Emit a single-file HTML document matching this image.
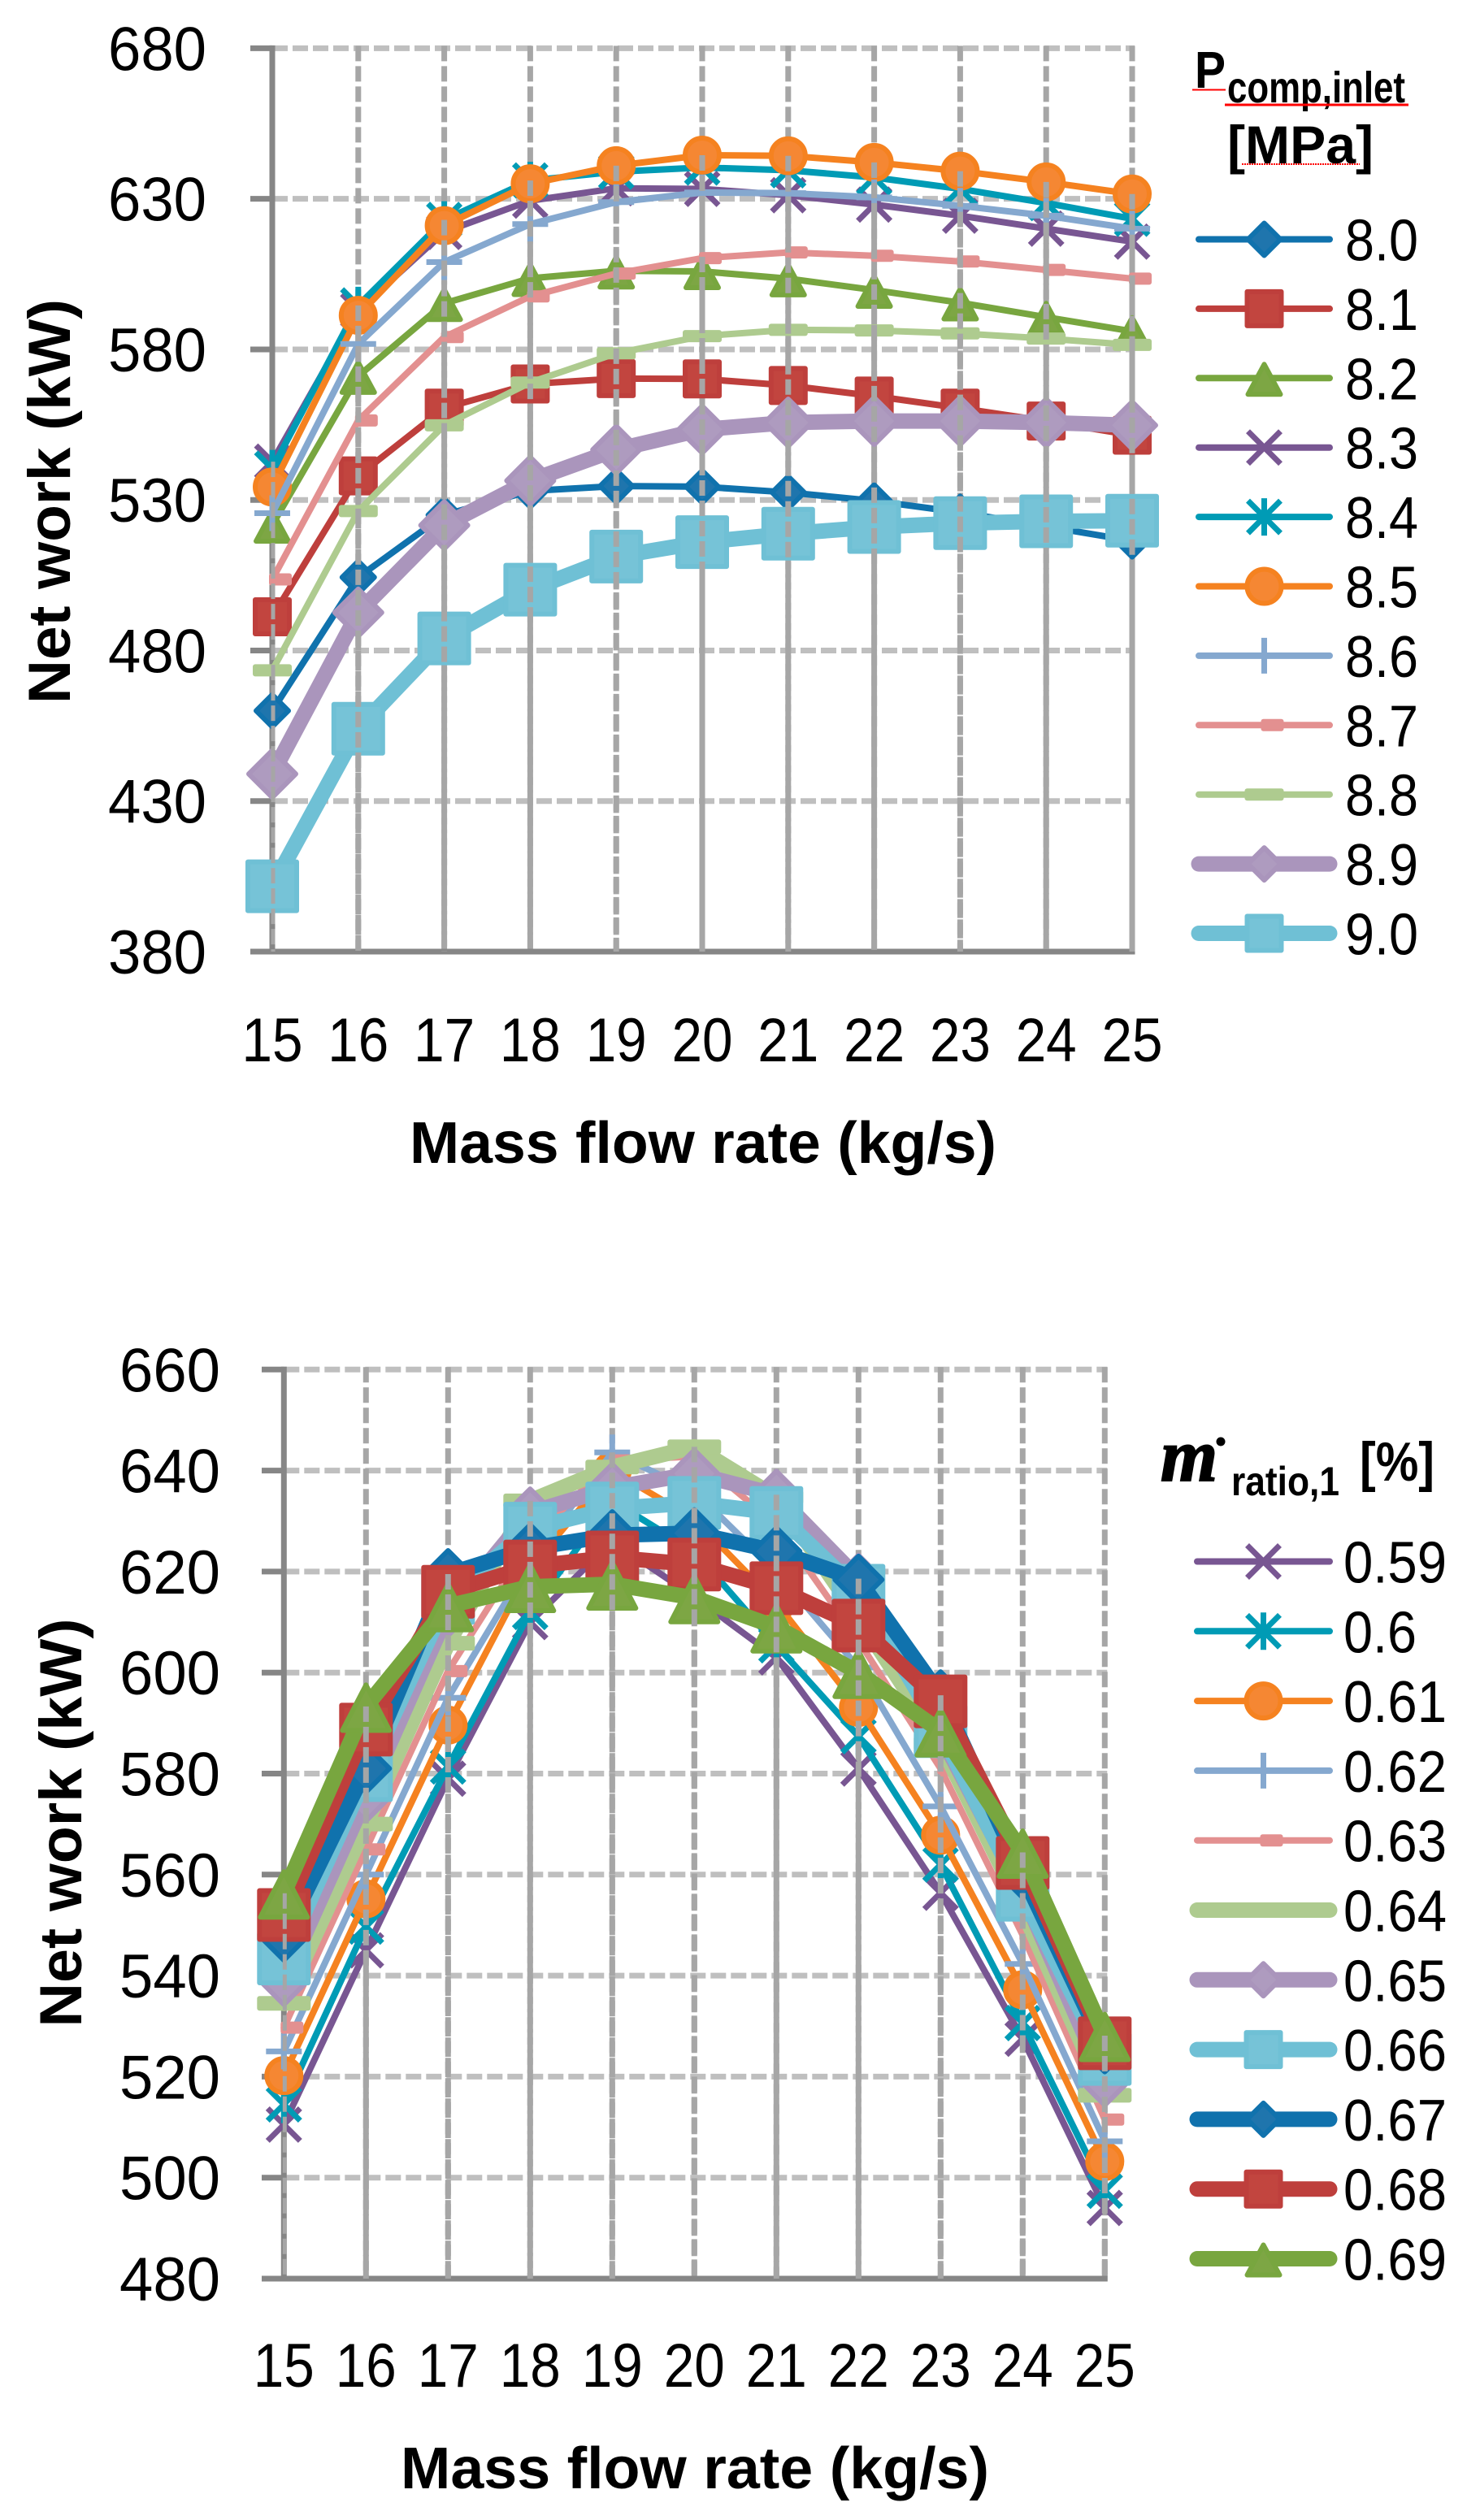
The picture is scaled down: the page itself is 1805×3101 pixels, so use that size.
<!DOCTYPE html>
<html lang="en">
<head>
<meta charset="utf-8">
<title>Net work vs mass flow rate</title>
<style>
html,body{margin:0;padding:0;background:#fff;}
svg{display:block;}
text{font-family:"Liberation Sans",sans-serif;fill:#000;}
.bold{font-weight:bold;}
</style>
</head>
<body>
<svg id="figure" xmlns="http://www.w3.org/2000/svg" width="1805" height="3101" viewBox="0 0 1805 3101">
  <g id="chart-top"></g>
  <g id="chart-bottom"></g>

  <text class="bold" transform="translate(86 617) rotate(-90)" text-anchor="middle" font-size="73" textLength="498" lengthAdjust="spacingAndGlyphs">Net work (kW)</text>
  <text class="bold" x="504" y="1431" font-size="72" textLength="722" lengthAdjust="spacingAndGlyphs">Mass flow rate (kg/s)</text>
  <text class="bold" x="1470" y="108" font-size="64" textLength="38" lengthAdjust="spacingAndGlyphs">P</text>
  <text class="bold" x="1510" y="126" font-size="54" textLength="219" lengthAdjust="spacingAndGlyphs">comp,inlet</text>
  <text class="bold" x="1510" y="201" font-size="66" textLength="180" lengthAdjust="spacingAndGlyphs">[MPa]</text>
  <line x1="1467" y1="110.5" x2="1508" y2="110.5" stroke="#ff0000" stroke-width="2"/>
  <line x1="1507" y1="129" x2="1733" y2="129" stroke="#ff0000" stroke-width="3"/>
  <line x1="1528" y1="202" x2="1673" y2="202" stroke="#ff0000" stroke-width="2" stroke-dasharray="2 1"/>

  <text class="bold" transform="translate(100 2243) rotate(-90)" text-anchor="middle" font-size="73" textLength="503" lengthAdjust="spacingAndGlyphs">Net work (kW)</text>
  <text class="bold" x="493" y="3062" font-size="72" textLength="724" lengthAdjust="spacingAndGlyphs">Mass flow rate (kg/s)</text>
  <text x="1428" y="1822" font-size="92" font-weight="bold" font-style="italic" stroke="#000" stroke-width="2" style="font-family:'Liberation Serif',serif" textLength="70" lengthAdjust="spacingAndGlyphs">m</text>
  <circle cx="1502" cy="1774" r="5.5" fill="#000"/>
  <text class="bold" x="1515" y="1840" font-size="50" textLength="133" lengthAdjust="spacingAndGlyphs">ratio,1</text>
  <text class="bold" x="1673" y="1822" font-size="68" textLength="92" lengthAdjust="spacingAndGlyphs">[%]</text>
</svg>

<script>
// ---------- shared categories ----------
const categories = [15, 16, 17, 18, 19, 20, 21, 22, 23, 24, 25];

// ---------- top chart data ----------
const topTicks = [380, 430, 480, 530, 580, 630, 680];
const topLabels = ['8.0', '8.1', '8.2', '8.3', '8.4', '8.5', '8.6', '8.7', '8.8', '8.9', '9.0'];
const p80 = [460, 504.3, 525, 533, 534.6, 534.4, 532.5, 529.7, 525.9, 521.2, 516.4];
const p81 = [491.2, 538, 560.5, 568.5, 570.3, 570.2, 568, 564.5, 560.5, 556.2, 551.5];
const p82 = [521.7, 571.1, 595.3, 603.6, 606.1, 605.9, 603.5, 599.7, 595.5, 590.7, 586];
const p83 = [542.7, 593, 619, 629.4, 633.5, 633.3, 631.2, 628.1, 624.4, 620.1, 615.8];
const p84 = [540.4, 594.6, 623, 636.1, 639, 640.4, 639.5, 637.1, 633.3, 628.6, 623.4];
const p85 = [534.3, 591.3, 621.1, 635, 641, 644.5, 644.3, 642.1, 639.2, 635.6, 631.6];
const p86 = [525.6, 581.8, 609, 621.6, 628.9, 632.1, 631.9, 630.5, 627.7, 624.4, 620.1];
const p87 = [503.6, 556.4, 584.1, 597.6, 605.2, 610.3, 612.2, 611.1, 609.2, 606.4, 603.5];
const p88 = [473.4, 526.3, 554.8, 569, 578.7, 584.4, 586.5, 586.3, 585.3, 583.6, 581.5];
const p89 = [439, 492.6, 521.6, 536.4, 546.7, 553.4, 555.7, 556.2, 556.2, 555.7, 554.8];
const p90 = [401.7, 454, 484, 500.2, 511.2, 516, 518.8, 521, 522.3, 522.9, 523.1];

// ---------- bottom chart data ----------
const bottomTicks = [480, 500, 520, 540, 560, 580, 600, 620, 640, 660];
const bottomLabels = ['0.59', '0.6', '0.61', '0.62', '0.63', '0.64', '0.65', '0.66', '0.67', '0.68', '0.69'];
const r059 = [510.5, 545, 579, 610, 626, 615, 603, 581, 556.4, 527.5, 494];
const r060 = [514.5, 549.7, 581.4, 612, 634, 624, 605.4, 587.4, 562, 530.6, 497.4];
const r061 = [520.2, 555.2, 589.6, 620.7, 640, 630.4, 613.8, 593.1, 567.8, 537.2, 503.2];
const r062 = [525, 560, 595, 622, 643.6, 635.9, 620, 601, 573.5, 542.3, 507.2];
const r063 = [529.7, 565, 600.3, 626, 642, 642.8, 629.3, 606.3, 581, 548, 511.5];
const r064 = [534.5, 570, 605.8, 634, 640.7, 644.7, 634.7, 611, 586, 553, 516.3];
const r065 = [538.9, 575.3, 612, 631.7, 636.6, 639.4, 635.2, 618.6, 587.6, 556.4, 519];
const r066 = [543.4, 579.7, 614.8, 628.5, 632.5, 633.6, 631.6, 616.2, 588.4, 556, 523.5];
const r067 = [547.7, 581, 619.5, 624.6, 627.2, 627.6, 624, 618.4, 595.5, 560.1, 525.6];
const r068 = [552, 588.7, 616, 621, 622.8, 621.4, 616.7, 609.3, 594.3, 562.3, 526.6];
const r069 = [556.3, 593.3, 613.2, 617, 617.5, 614.8, 609, 600, 588.4, 564.4, 528.1];

// ---------- series appearance ----------
const blueStyle = {line: '#1072ad', fill: '#1f75ad'};
const redStyle = {line: '#be3f3c', fill: '#c2453f'};
const greenStyle = {line: '#78a63f', fill: '#7da644'};
const purpleStyle = {line: '#785692', fill: '#785692'};
const tealStyle = {line: '#009bb5', fill: '#009bb5'};
const orangeStyle = {line: '#f58220', fill: '#f58733'};
const skyStyle = {line: '#85a8cf', fill: '#85a8cf'};
const pinkStyle = {line: '#e39090', fill: '#e39090'};
const paleStyle = {line: '#aecb8f', fill: '#aecb8f'};
const lilacStyle = {line: '#aa95bc', fill: '#ae9bbf'};
const cyanStyle = {line: '#6fc0d5', fill: '#76c3d7'};

const topSeries = [
  {values: p80, c: blueStyle, w: 8, m: 'diamond', s: 24},
  {values: p81, c: redStyle, w: 8, m: 'square', s: 24},
  {values: p82, c: greenStyle, w: 8, m: 'triangle', s: 24, h: 46},
  {values: p83, c: purpleStyle, w: 8, m: 'x', s: 23},
  {values: p84, c: tealStyle, w: 8, m: 'star', s: 23},
  {values: p85, c: orangeStyle, w: 8, m: 'circle', s: 24},
  {values: p86, c: skyStyle, w: 8, m: 'plus', s: 22},
  {values: p87, c: pinkStyle, w: 8, m: 'shortdash', s: 24, h: 15},
  {values: p88, c: paleStyle, w: 8, m: 'dash', s: 24, h: 15},
  {values: p89, c: lilacStyle, w: 19, m: 'diamond', s: 33},
  {values: p90, c: cyanStyle, w: 19, m: 'square', s: 33}
];
const bottomSeries = [
  {values: r059, c: purpleStyle, w: 8, m: 'x', s: 23},
  {values: r060, c: tealStyle, w: 8, m: 'star', s: 23},
  {values: r061, c: orangeStyle, w: 8, m: 'circle', s: 24},
  {values: r062, c: skyStyle, w: 8, m: 'plus', s: 22},
  {values: r063, c: pinkStyle, w: 8, m: 'shortdash', s: 24, h: 15},
  {values: r064, c: paleStyle, w: 19, m: 'dash', s: 33, h: 18},
  {values: r065, c: lilacStyle, w: 19, m: 'diamond', s: 33},
  {values: r066, c: cyanStyle, w: 19, m: 'square', s: 33},
  {values: r067, c: blueStyle, w: 19, m: 'diamond', s: 33},
  {values: r068, c: redStyle, w: 19, m: 'square', s: 33},
  {values: r069, c: greenStyle, w: 19, m: 'triangle', s: 33, h: 65}
];

const NS = 'http://www.w3.org/2000/svg';

function make(tag, attrs, parent) {
  const el = document.createElementNS(NS, tag);
  for (const k in attrs) el.setAttribute(k, attrs[k]);
  parent.appendChild(el);
  return el;
}

function drawMarker(parent, type, cx, cy, s, h, c) {
  const g = make('g', {}, parent);
  const solid = {fill: c.fill, stroke: c.line, 'stroke-width': 6, 'stroke-linejoin': 'round'};
  if (type === 'diamond') {
    const r = s - 4;
    make('polygon', Object.assign({points: [cx, cy - r, cx + r, cy, cx, cy + r, cx - r, cy].join(' ')}, solid), g);
  } else if (type === 'square') {
    const r = s - 3;
    make('rect', Object.assign({x: cx - r, y: cy - r, width: 2 * r, height: 2 * r}, solid), g);
  } else if (type === 'triangle') {
    const w = s - 4;
    make('polygon', Object.assign({points: [cx, cy - h / 2 + 6, cx + w, cy + h / 2 - 3, cx - w, cy + h / 2 - 3].join(' ')}, solid), g);
  } else if (type === 'circle') {
    make('circle', Object.assign({cx: cx, cy: cy, r: s - 3}, solid), g);
  } else if (type === 'dash') {
    make('rect', {x: cx - s, y: cy - h / 2, width: 2 * s, height: h, rx: 3, fill: c.fill}, g);
  } else if (type === 'shortdash') {
    make('rect', {x: cx - 4, y: cy - h / 2, width: s + 4, height: h, rx: 3, fill: c.fill}, g);
  } else {
    const stroke = {stroke: c.line, 'stroke-width': 7, fill: 'none'};
    if (type === 'x' || type === 'star') {
      const d = s - 3;
      make('line', Object.assign({x1: cx - d, y1: cy - d, x2: cx + d, y2: cy + d}, stroke), g);
      make('line', Object.assign({x1: cx - d, y1: cy + d, x2: cx + d, y2: cy - d}, stroke), g);
    }
    if (type === 'star' || type === 'plus') {
      make('line', Object.assign({x1: cx, y1: cy - s, x2: cx, y2: cy + s}, stroke), g);
    }
    if (type === 'plus') {
      make('line', Object.assign({x1: cx - s, y1: cy, x2: cx + s, y2: cy}, stroke), g);
    }
  }
  return g;
}

function drawChart(cfg) {
  const root = document.getElementById(cfg.id);
  const xScale = function (c) { return cfg.x0 + (c - categories[0]) * cfg.dx; };
  const yScale = function (v) { return cfg.yBase + (cfg.ticks[0] - v) * cfg.ky; };
  const top = yScale(cfg.ticks[cfg.ticks.length - 1]);
  const bottom = yScale(cfg.ticks[0]);
  const right = xScale(categories[categories.length - 1]);

  // horizontal gridlines
  cfg.ticks.forEach(function (t) {
    if (t === cfg.ticks[0]) return;
    const grid = make('line', {x1: cfg.x0, x2: right + 3, y1: yScale(t), y2: yScale(t), stroke: '#bfbfbf', 'stroke-width': 7, 'stroke-dasharray': '19 6'}, root);
    
    
  });
  // vertical gridlines
  categories.forEach(function (c) {
    if (c === categories[0]) return;
    const grid = make('line', {x1: xScale(c), x2: xScale(c), y1: top - 3, y2: bottom, stroke: '#a6a6a6', 'stroke-width': 7, 'stroke-dasharray': '19 6'}, root);
    
    
  });
  // axes and ticks
  const yAxis = make('line', {x1: cfg.x0, x2: cfg.x0, y1: top - 3.5, y2: bottom + 3.5, stroke: '#868686', 'stroke-width': 7}, root);
  
  
  const xAxis = make('line', {x1: cfg.tickLeft, x2: right + 3.5, y1: bottom, y2: bottom, stroke: '#868686', 'stroke-width': 7}, root);
  
  
  cfg.ticks.forEach(function (t) {
    const tick = make('line', {x1: cfg.tickLeft, x2: cfg.x0, y1: yScale(t), y2: yScale(t), stroke: '#868686', 'stroke-width': 7}, root);
    
    
    const label = make('text', {x: cfg.yLabelRight, y: yScale(t) + 27, 'text-anchor': 'end', 'font-size': 76, textLength: cfg.yLabelWidth, lengthAdjust: 'spacingAndGlyphs'}, root);
    label.textContent = String(t);
    
    
  });
  categories.forEach(function (c) {
    const label = make('text', {x: xScale(c), y: cfg.xLabelY, 'text-anchor': 'middle', 'font-size': 76, textLength: 75, lengthAdjust: 'spacingAndGlyphs'}, root);
    label.textContent = String(c);
    
    
  });

  // series
  cfg.series.forEach(function (sr, i) {
    const g = make('g', {}, root);
    
    
    const pts = sr.values.map(function (v, j) { return xScale(categories[j]) + ',' + yScale(v); }).join(' ');
    const line = make('polyline', {points: pts, fill: 'none', stroke: sr.c.line, 'stroke-width': sr.w, 'stroke-linejoin': 'round', 'stroke-linecap': 'round'}, g);
    
    
    sr.values.forEach(function (v, j) {
      const mk = drawMarker(g, sr.m, xScale(categories[j]), yScale(v), sr.s, sr.h, sr.c);
      
      
    });
  });

  // drop lines, from the highest series value down to the axis, on top of the marks
  categories.forEach(function (c, j) {
    const peak = Math.max.apply(null, cfg.series.map(function (sr) { return sr.values[j]; }));
    const first = j === 0;
    const drop = make('line', {x1: xScale(c) + (first ? 1 : 0), x2: xScale(c) + (first ? 1 : 0), y1: yScale(peak), y2: bottom, stroke: '#a6a6a6', 'stroke-width': first ? 5 : 7, 'stroke-dasharray': '19 6'}, root);
    
    
  });

  // legend
  cfg.series.forEach(function (sr, i) {
    const y = cfg.legendY + i * cfg.legendStep;
    const entry = make('g', {}, root);
    
    
    make('line', {x1: cfg.legendX0, x2: cfg.legendX1, y1: y, y2: y, stroke: sr.c.line, 'stroke-width': sr.w, 'stroke-linecap': 'round'}, entry);
    const h = sr.m === 'triangle' ? 46 : sr.h === 18 ? 18 : 15;
    drawMarker(entry, sr.m, (cfg.legendX0 + cfg.legendX1) / 2, y, Math.min(sr.s, 24), h, sr.c);
    const label = make('text', {x: cfg.legendTextX, y: y + 26, 'font-size': 72, textLength: cfg.labels[i].length === 4 ? 127 : 90, lengthAdjust: 'spacingAndGlyphs'}, entry);
    label.textContent = cfg.labels[i];
  });
}

drawChart({
  id: 'chart-top', series: topSeries, labels: topLabels, ticks: topTicks,
  x0: 335, dx: 105.8, yBase: 1171, ky: 3.7053,
  tickLeft: 308, yLabelRight: 254, yLabelWidth: 121, xLabelY: 1306,
  legendY: 294.5, legendStep: 85.4, legendX0: 1475, legendX1: 1636, legendTextX: 1655
});
drawChart({
  id: 'chart-bottom', series: bottomSeries, labels: bottomLabels, ticks: bottomTicks,
  x0: 349.3, dx: 101, yBase: 2804, ky: 6.215,
  tickLeft: 322, yLabelRight: 271, yLabelWidth: 124, xLabelY: 2937,
  legendY: 1921.5, legendStep: 85.8, legendX0: 1473, legendX1: 1636, legendTextX: 1653
});
</script>
</body>
</html>
